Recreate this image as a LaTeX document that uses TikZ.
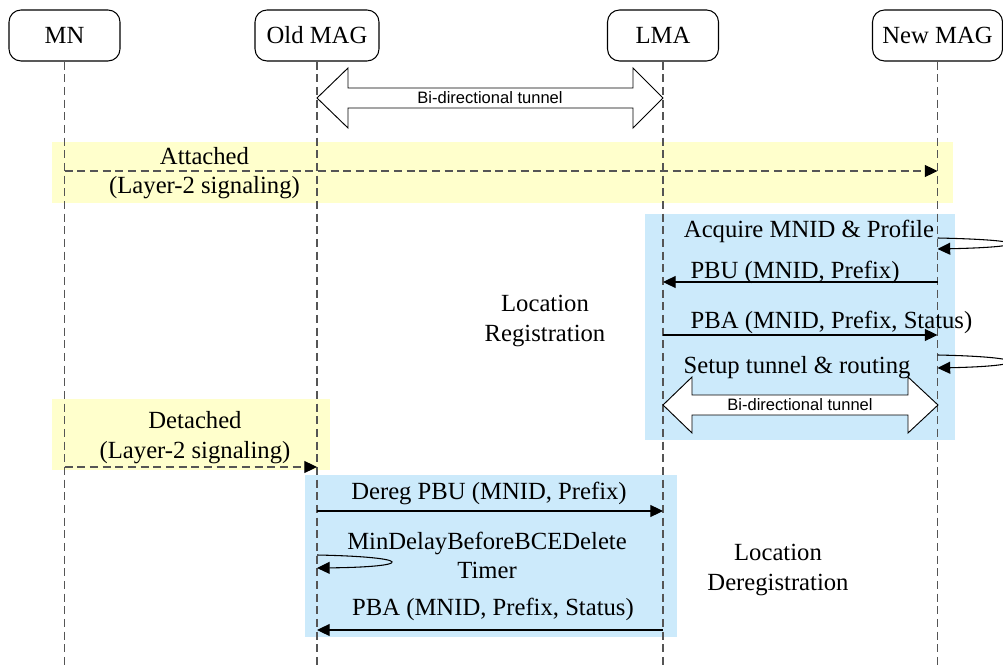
\documentclass[tikz,border=0pt]{standalone}
\usepackage{fontspec}
\setmainfont{Liberation Serif}
\newfontfamily\labsans{Liberation Sans}
\usetikzlibrary{arrows.meta}
\definecolor{pyellow}{HTML}{FFFFCC}
\definecolor{pblue}{HTML}{CCEAFB}
\definecolor{lifegray}{HTML}{555555}
\tikzset{
  actor/.style={draw=black, line width=0.8pt, rounded corners=9pt, minimum height=38.25pt, inner sep=0pt, font=\fontsize{18.5}{22}\selectfont},
  life/.style={lifegray, line width=0.8pt, dash pattern=on 6pt off 3.5pt},
  msg/.style={black, line width=0.8pt, -{Triangle[length=9.5pt,width=9pt]}},
  dmsg/.style={draw=lifegray, line width=0.8pt, dash pattern=on 6pt off 3.5pt, -{Triangle[length=9.5pt,width=9pt,color=black]}},
  lbl/.style={font=\fontsize{18.5}{22}\selectfont, align=center, inner sep=0pt},
  tun/.style={font=\labsans\fontsize{12.4}{14}\selectfont, inner sep=0pt},
  bigarrow/.style={draw=black, fill=white, line width=0.7pt, line join=miter},
}
\begin{document}
\begin{tikzpicture}[x=0.75pt,y=-0.75pt]
\clip (0,0) rectangle (1003,666);
\fill[white] (0,0) rectangle (1003,666);
% background boxes
\fill[pyellow] (52,142) rectangle (953,203);
\fill[pyellow] (52,399) rectangle (330,470);
\fill[pblue] (645,214) rectangle (955,440);
\fill[pblue] (305,475) rectangle (677,637);
% actors
\node[actor, minimum width=83.25pt] (mn) at (64.5,35.5) {MN};
\node[actor, minimum width=93pt] (old) at (317,35.5) {Old MAG};
\node[actor, minimum width=83.25pt] (lma) at (663,35.5) {LMA};
\node[actor, minimum width=97.5pt] (new) at (937.5,35.5) {New MAG};
% lifelines
\coordinate (bot) at (0,666);
\draw[life] (mn.south) -- (mn.south |- bot);
\draw[life] (old.south) -- (old.south |- bot);
\draw[life] (lma.south) -- (lma.south |- bot);
\draw[life] (new.south) -- (new.south |- bot);
% tunnel 1
\draw[bigarrow] (317,98) -- (348,68) -- (348,88) -- (633,88) -- (633,68) -- (663,98)
  -- (633,128) -- (633,108) -- (348,108) -- (348,128) -- cycle;
\node[tun] (t1) at (490,97.5) {Bi-directional tunnel};
% attached
\node[lbl] (att) at (204.5,173) {Attached\\(Layer-2 signaling)};
\draw[dmsg] (mn |- 0,171) -- (new |- 0,171);
% registration
\node[lbl, anchor=base] (acq) at (809,237.5) {Acquire MNID \& Profile};
\draw[msg] (new |- 0,238) .. controls +(95,2) and +(95,-2) .. (new |- 0,249);
\node[lbl, anchor=base] (pbu) at (795,278.5) {PBU (MNID, Prefix)};
\draw[msg] (new |- 0,282) -- (lma |- 0,282);
\node[lbl, anchor=base] (pba) at (831.5,328.5) {PBA (MNID, Prefix, Status)};
\draw[msg] (lma |- 0,335) -- (new |- 0,335);
\node[lbl, anchor=base] (setup) at (797,373.5) {Setup tunnel \& routing};
\draw[msg] (new |- 0,355) .. controls +(95,2) and +(95,-2) .. (new |- 0,368);
\draw[bigarrow] (663,405) -- (692,377) -- (692,395) -- (908,395) -- (908,377) -- (938,405)
  -- (908,433) -- (908,415) -- (692,415) -- (692,433) -- cycle;
\node[tun] (t2) at (800,405) {Bi-directional tunnel};
\node[lbl] (locreg) at (545,321) {Location\\Registration};
% detached
\node[lbl] (det) at (195,437.5) {Detached\\(Layer-2 signaling)};
\draw[dmsg] (mn |- 0,467) -- (old |- 0,467);
% deregistration
\node[lbl, anchor=base] (dpbu) at (489,499.5) {Dereg PBU (MNID, Prefix)};
\draw[msg] (old |- 0,511) -- (lma |- 0,511);
\node[lbl] (timer) at (487,555.5) {MinDelayBeforeBCEDelete\\Timer};
\draw[msg] (old |- 0,555) .. controls +(98,2) and +(98,-1) .. (old |- 0,568);
\node[lbl, anchor=base] (dpba) at (493,615.5) {PBA (MNID, Prefix, Status)};
\draw[msg] (lma |- 0,630) -- (old |- 0,630);
\node[lbl] (locdereg) at (778,570) {Location\\Deregistration};
\end{tikzpicture}
\end{document}
